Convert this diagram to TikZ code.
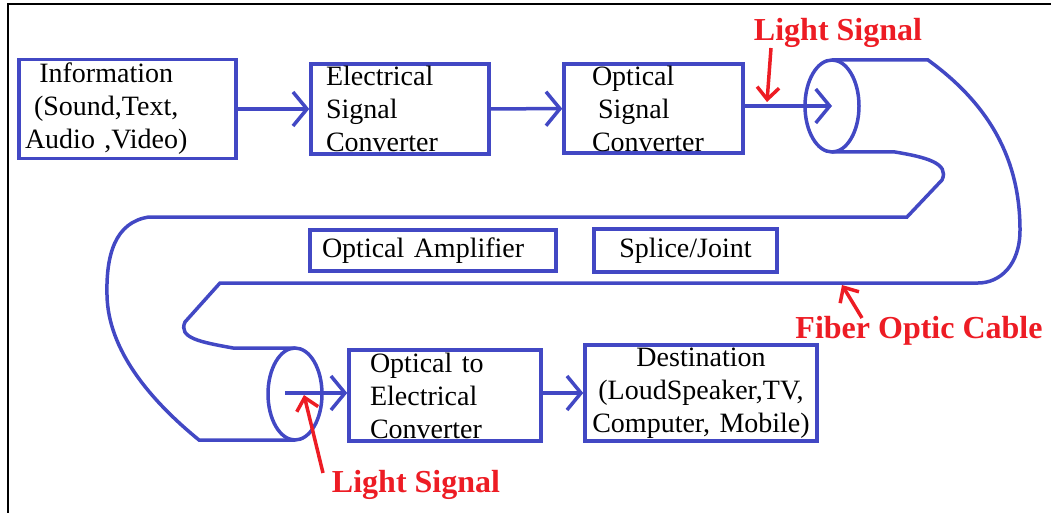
\documentclass[tikz,border=0pt]{standalone}
\usepackage{fontspec}
\setmainfont{Liberation Serif}
\usetikzlibrary{arrows.meta, positioning}
\definecolor{cableblue}{RGB}{66,72,196}
\definecolor{sigred}{RGB}{237,28,36}

\begin{document}
\begin{tikzpicture}[x=1pt, y=-1pt,
    box/.style={draw=cableblue, line width=3.5pt, inner ysep=0pt, font=\fontsize{28}{33}\selectfont},
    flow/.style={draw=cableblue, line width=3.5pt, -{Straight Barb[length=14pt,width=34pt]}},
    cable/.style={draw=cableblue, line width=3.5pt},
    redlbl/.style={text=sigred, inner sep=0pt, anchor=base, font=\fontsize{32}{36}\selectfont\bfseries},
    pointer/.style={draw=sigred, line width=3.5pt, -{Straight Barb[length=12pt,width=22pt]}}]
    \useasboundingbox (0,0) rectangle (1051,513);
    \draw[line width=2.5pt] (8,513) -- (8,4) -- (1051,4);

    % blocks
    \node[box, minimum width=217pt, minimum height=90pt, text width=205pt, inner xsep=6pt, align=left] (info) at (127.5,109)
        {\begin{tabular}{@{}c@{}}Information\\(Sound,Text,\\Audio ,Video)\end{tabular}};
    \node[box, minimum height=90pt, text width=148pt, inner xsep=15pt, align=left] (elec) at (400,109)
        {Electrical\\Signal\\Converter};
    \node[box, minimum height=89pt, text width=123pt, inner xsep=28pt, align=left] (opt) at (653.5,108.5)
        {Optical\\\hspace*{6pt}Signal\\Converter};
    \node[box, minimum height=41pt, text width=222pt, inner xsep=12pt, align=left] (amp) at (433,250.5)
        {Optical Amplifier};
    \node[box, minimum width=183pt, minimum height=43pt, align=center] (splice) at (685.5,250.5)
        {Splice/Joint};
    \node[box, minimum height=91pt, text width=150pt, inner xsep=21pt, align=left] (o2e) at (445,395.5)
        {Optical to\\Electrical\\Converter};
    \node[box, minimum height=96pt, text width=224pt, inner xsep=4pt, align=center] (dest) at (701,393)
        {Destination\\(LoudSpeaker,TV,\\Computer, Mobile)};

    % cable ends
    \coordinate (tube1) at (832,106);
    \coordinate (tube2) at (295,394);
    \coordinate (beam2) at (285,393);
    \draw[cable] (tube1) ellipse [x radius=27pt, y radius=46pt];
    \draw[cable] (tube2) ellipse [x radius=27pt, y radius=46pt];

    % cable body
    \draw[cable] (832,60) -- (928,60) .. controls (990,105) and (1020,160) .. (1020,230)
        .. controls (1020,265) and (1000,283) .. (978,283) -- (220,283) -- (185,322)
        .. controls (178,338) and (200,342) .. (233,348) -- (295,348);
    \draw[cable] (832,152) -- (895,152) .. controls (925,157) and (950,163) .. (942,180)
        -- (907,217) -- (149,217) .. controls (115,222) and (106,255) .. (107,295)
        .. controls (108,350) and (150,400) .. (199,440) -- (295,440);

    % signal flow
    \draw[flow] (info) -- (elec);
    \draw[flow] (elec) -- (opt);
    \draw[flow] (opt.east |- tube1) -- (tube1);
    \draw[flow] (beam2) -- (beam2 -| o2e.west);
    \draw[flow] (o2e.east |- dest) -- (dest);

    % labels
    \node[redlbl] (light1) at (838,41) {Light Signal};
    \node[redlbl] (fiber) at (919,338) {Fiber Optic Cable};
    \node[redlbl] (light2) at (416,492) {Light Signal};
    \draw[pointer] ([xshift=-67pt,yshift=-7pt]light1.base) -- (767,102);
    \draw[pointer] ([xshift=-57pt,yshift=20pt]fiber.base) -- (842,285);
    \draw[pointer] ([xshift=-93pt,yshift=19pt]light2.base) -- (304,395);
\end{tikzpicture}
\end{document}
